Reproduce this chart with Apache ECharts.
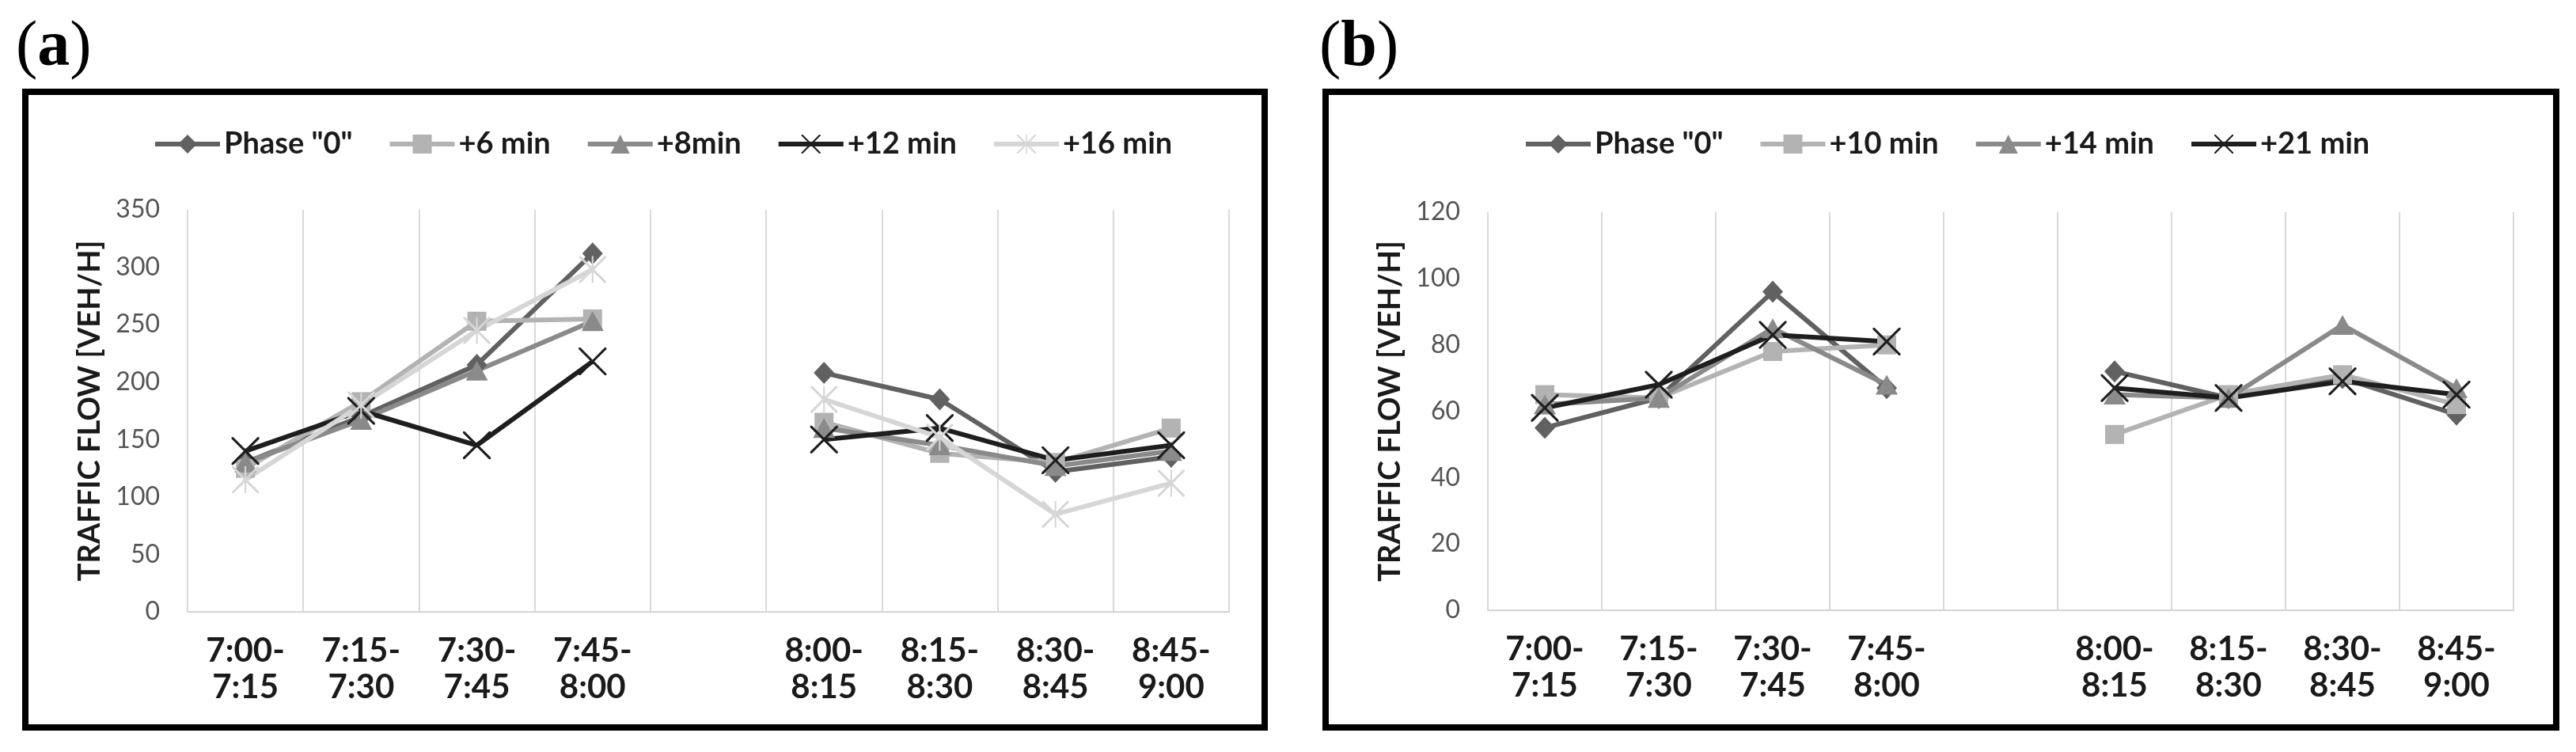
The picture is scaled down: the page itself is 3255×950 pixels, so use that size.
<!DOCTYPE html>
<html>
<head>
<meta charset="utf-8">
<script src="https://cdn.jsdelivr.net/npm/echarts@6/dist/echarts.min.js"></script>
<style>
html,body{margin:0;padding:0;background:#fff;}
#c{width:3255px;height:950px;}
</style>
</head>
<body>
<div id="c"></div>
<script>
// ---- data ----
var categories = ['7:00-\n7:15','7:15-\n7:30','7:30-\n7:45','7:45-\n8:00','','8:00-\n8:15','8:15-\n8:30','8:30-\n8:45','8:45-\n9:00'];

var namesA = ['Phase "0"', '+6 min', '+8min', '+12 min', '+16 min'];
var phase0A = [130, 170, 215, 312, null, 208, 185, 122, 135];
var plus6A  = [125, 183, 253, 255, null, 165, 138, 130, 160];
var plus8A  = [130, 167, 210, 253, null, 160, 145, 127, 140];
var plus12A = [140, 175, 145, 218, null, 150, 160, 132, 145];
var plus16A = [115, 180, 245, 298, null, 185, 152, 85, 112];

var namesB = ['Phase "0"', '+10 min', '+14 min', '+21 min'];
var phase0B = [55, 64, 96, 67, null, 72, 64, 70, 59];
var plus10B = [65, 64, 78, 80, null, 53, 65, 71, 62];
var plus14B = [62, 64, 85, 68, null, 65, 64, 86, 67];
var plus21B = [61, 68, 83, 81, null, 67, 64, 69, 65];

var yTicksA = {min: 0, max: 350, interval: 50};
var yTicksB = {min: 0, max: 120, interval: 20};

// ---- styles ----
var FONT = "Lato, 'Open Sans', sans-serif";
var X_PATH = 'path://M0,0 L2,0 L16,14 L30,0 L32,0 L32,2 L18,16 L32,30 L32,32 L30,32 L16,18 L2,32 L0,32 L0,30 L14,16 L0,2 Z';
var STAR_PATH = 'path://M0,0 L2,0 L16,14 L30,0 L32,0 L32,2 L18,16 L32,30 L32,32 L30,32 L16,18 L2,32 L0,32 L0,30 L14,16 L0,2 Z M15,0 L17,0 L17,32 L15,32 Z';

var styleDefs = {
  phase0: {color: '#616161', symbol: 'diamond', size: [26, 28]},
  light:  {color: '#b3b3b3', symbol: 'rect', size: 24},
  mid:    {color: '#8a8a8a', symbol: 'triangle', size: [28, 25]},
  black:  {color: '#1e1e1e', symbol: X_PATH, size: 35},
  xlight: {color: '#d6d6d6', symbol: STAR_PATH, size: 34}
};

function mkSeries(name, data, st, idx) {
  return {
    type: 'line', name: name, data: data,
    xAxisIndex: idx, yAxisIndex: idx,
    symbol: st.symbol, symbolSize: st.size,
    showAllSymbol: true, connectNulls: false,
    lineStyle: {color: st.color, width: 6},
    itemStyle: {color: st.color},
    emphasis: {disabled: true}
  };
}

var series = [
  mkSeries(namesA[0], phase0A, styleDefs.phase0, 0),
  mkSeries(namesA[1], plus6A, styleDefs.light, 0),
  mkSeries(namesA[2], plus8A, styleDefs.mid, 0),
  mkSeries(namesA[3], plus12A, styleDefs.black, 0),
  mkSeries(namesA[4], plus16A, styleDefs.xlight, 0),
  mkSeries(namesB[0], phase0B, styleDefs.phase0, 1),
  mkSeries(namesB[1], plus10B, styleDefs.light, 1),
  mkSeries(namesB[2], plus14B, styleDefs.mid, 1),
  mkSeries(namesB[3], plus21B, styleDefs.black, 1)
];

function xAxisDef(gi) {
  return {
    type: 'category', gridIndex: gi, data: categories, boundaryGap: true,
    axisLine: {show: true, lineStyle: {color: '#d4d4d4', width: 2}},
    axisTick: {show: false},
    splitLine: {show: true, lineStyle: {color: '#d9d9d9', width: 2}},
    axisLabel: {interval: 0, margin: 26, fontFamily: FONT, fontSize: 42, fontWeight: 'bold', color: '#1a1a1a', lineHeight: 46}
  };
}
function yAxisDef(gi, t) {
  return {
    type: 'value', gridIndex: gi, min: t.min, max: t.max, interval: t.interval,
    name: 'TRAFFIC FLOW [VEH/H]', nameLocation: 'middle', nameGap: 104,
    nameTextStyle: {fontFamily: FONT, fontSize: 38, fontWeight: 'bold', color: '#1a1a1a'},
    axisLine: {show: false}, axisTick: {show: false},
    splitLine: {show: false},
    axisLabel: {margin: 35, fontFamily: FONT, fontSize: 32, color: '#555555'}
  };
}

var legendText = {fontFamily: FONT, fontSize: 38, fontWeight: 'bold', color: '#1a1a1a'};

var option = {
  animation: false,
  backgroundColor: '#ffffff',
  graphic: [
    {type: 'rect', shape: {x: 32, y: 116, width: 1566, height: 803}, style: {fill: 'none', stroke: '#000', lineWidth: 8}, z: 100},
    {type: 'rect', shape: {x: 1675, y: 116, width: 1555, height: 803}, style: {fill: 'none', stroke: '#000', lineWidth: 8}, z: 100},
    {type: 'text', left: 20, top: 20, style: {text: '{p|(}{b|a}{p|)}', rich: {
      p: {fontFamily: "'Liberation Serif', serif", fontSize: 82, color: '#000'},
      b: {fontFamily: "'Liberation Serif', serif", fontSize: 82, fontWeight: 'bold', color: '#000'}}}},
    {type: 'text', left: 1667, top: 20, style: {text: '{p|(}{b|b}{p|)}', rich: {
      p: {fontFamily: "'Liberation Serif', serif", fontSize: 82, color: '#000'},
      b: {fontFamily: "'Liberation Serif', serif", fontSize: 82, fontWeight: 'bold', color: '#000'}}}}
  ],
  legend: [
    {data: namesA.slice(), left: 188, top: 158, itemWidth: 82, itemHeight: 30, itemGap: 44, textStyle: legendText, selectedMode: false, lineStyle: {width: 6}},
    {data: namesB.slice(), left: 1920, top: 158, itemWidth: 82, itemHeight: 30, itemGap: 44, textStyle: legendText, selectedMode: false, lineStyle: {width: 6}}
  ],
  grid: [
    {left: 237, top: 265, width: 1316, height: 508},
    {left: 1880, top: 268, width: 1296, height: 503}
  ],
  xAxis: [xAxisDef(0), xAxisDef(1)],
  yAxis: [yAxisDef(0, yTicksA), yAxisDef(1, yTicksB)],
  series: series
};

var chart = echarts.init(document.getElementById('c'), null, {renderer: 'canvas'});
chart.setOption(option);
</script>
</body>
</html>
